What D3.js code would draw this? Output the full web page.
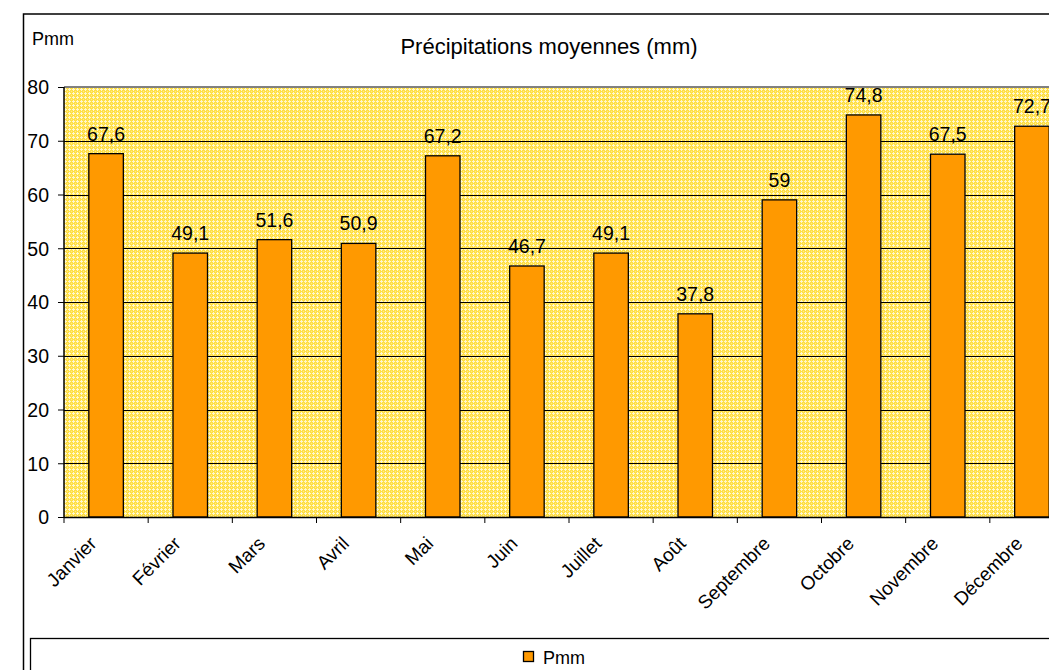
<!DOCTYPE html>
<html><head><meta charset="utf-8">
<script src="https://cdn.jsdelivr.net/npm/d3@7"></script>
<style>body{margin:0;background:#fff}svg text{font-family:"Liberation Sans",Arial,sans-serif}</style>
</head><body>
<svg id="c" width="1049" height="670"></svg>
<script>
const months = ["Janvier","Février","Mars","Avril","Mai","Juin","Juillet","Août","Septembre","Octobre","Novembre","Décembre"];
const pmm = [67.6,49.1,51.6,50.9,67.2,46.7,49.1,37.8,59,74.8,67.5,72.7];
const yTicks = [0,10,20,30,40,50,60,70,80];
const title = "Précipitations moyennes (mm)";
const yTitle = "Pmm";
const seriesName = "Pmm";

const svg = d3.select("#c");
const fmt = v => String(v).replace(".", ",");
const L = 64, R = 1074, T = 87, B = 517;

const defs = svg.append("defs");
const pat = defs.append("pattern").attr("id","hatch").attr("width",4).attr("height",4).attr("patternUnits","userSpaceOnUse");
pat.append("rect").attr("width",4).attr("height",4).attr("fill","#FFDF45");
pat.append("rect").attr("x",1).attr("y",0).attr("width",1).attr("height",3).attr("fill","#FFF7CC");
pat.append("rect").attr("x",0).attr("y",1).attr("width",3).attr("height",1).attr("fill","#FFF7CC");
pat.append("rect").attr("x",3).attr("y",3).attr("width",1).attr("height",1).attr("fill","#FFEB8A");

// outer chart border
svg.append("rect").attr("x",23.5).attr("y",14).attr("width",1100).attr("height",700).attr("fill","#fff").attr("stroke","#000").attr("stroke-width",1.5);

const x = d3.scaleBand().domain(months).range([L,R]).paddingInner(0.59).paddingOuter(0.295);
const xb = d3.scaleBand().domain(months).range([L,R]);
const y = d3.scaleLinear().domain([0,80]).range([B,T]);

svg.append("rect").attr("x",L).attr("y",T).attr("width",R-L).attr("height",B-T).attr("fill","url(#hatch)");
svg.append("line").attr("x1",L).attr("x2",R).attr("y1",T).attr("y2",T).attr("stroke","#808080").attr("stroke-width",2);

// gridlines
svg.append("g").selectAll("line").data(yTicks.filter(t=>t>0&&t<80)).join("line")
  .attr("x1",L).attr("x2",R).attr("y1",d=>Math.round(y(d))+0.5).attr("y2",d=>Math.round(y(d))+0.5)
  .attr("stroke","#000").attr("stroke-width",1);

// bars
svg.append("g").selectAll("rect").data(pmm).join("rect")
  .attr("x",(d,i)=>x(months[i])).attr("width",x.bandwidth())
  .attr("y",d=>y(d)).attr("height",d=>B-y(d))
  .attr("fill","#FF9900").attr("stroke","#000").attr("stroke-width",1.3);

// data labels
svg.append("g").selectAll("text").data(pmm).join("text")
  .attr("x",(d,i)=>x(months[i])+x.bandwidth()/2).attr("y",d=>y(d)-13)
  .attr("text-anchor","middle").attr("font-size",19.5).attr("fill","#000").text(d=>fmt(d));

// y axis
const ya = d3.axisLeft(y).tickValues(yTicks).tickSize(6).tickFormat(d=>d);
const gy = svg.append("g").attr("transform",`translate(${L},0)`).call(ya);
gy.select(".domain").attr("stroke","#000").attr("stroke-width",1.5).attr("d",`M0,${T}V${B}`);
gy.selectAll(".tick line").attr("stroke","#000");
gy.selectAll(".tick text").attr("font-size",19.5).attr("font-family","Liberation Sans, Arial, sans-serif").attr("fill","#000").attr("x",-15).attr("dy","0.35em");

// x axis
svg.append("line").attr("x1",L).attr("x2",R).attr("y1",B+0.5).attr("y2",B+0.5).attr("stroke","#000").attr("stroke-width",1.5);
svg.append("g").selectAll("line").data(months).join("line")
  .attr("x1",d=>xb(d)).attr("x2",d=>xb(d)).attr("y1",B).attr("y2",B+6).attr("stroke","#000");
svg.append("g").selectAll("text").data(months).join("text")
  .attr("transform",d=>`translate(${xb(d)+xb.bandwidth()/2-13},${540}) rotate(-45)`)
  .attr("text-anchor","end").attr("dy","0.35em").attr("font-size",19).attr("fill","#000").text(d=>d);

// titles
svg.append("text").attr("x",549).attr("y",54).attr("text-anchor","middle").attr("font-size",22).text(title);
svg.append("text").attr("x",32).attr("y",45).attr("font-size",18).text(yTitle);

// legend
svg.append("rect").attr("x",30.5).attr("y",638.5).attr("width",1100).attr("height",100).attr("fill","#fff").attr("stroke","#000").attr("stroke-width",1.3);
svg.append("rect").attr("x",523.5).attr("y",651.5).attr("width",10).attr("height",10).attr("fill","#FF9900").attr("stroke","#000").attr("stroke-width",1.3);
svg.append("text").attr("x",543).attr("y",664).attr("font-size",18).text(seriesName);
</script>
</body></html>
